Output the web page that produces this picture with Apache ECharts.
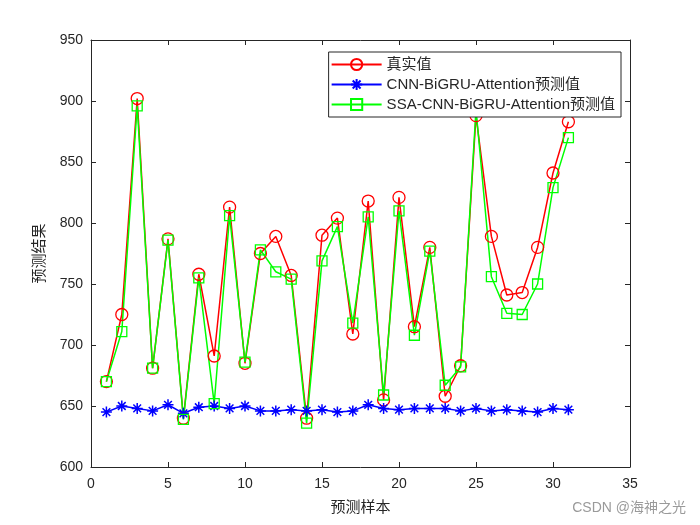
<!DOCTYPE html>
<html><head><meta charset="utf-8">
<script src="https://cdn.jsdelivr.net/npm/echarts@6/dist/echarts.min.js"></script>
<style>html,body{margin:0;padding:0;background:#fff}#c{width:700px;height:525px}</style>
</head><body><div id="c"></div>
<script>
const samples = [1,2,3,4,5,6,7,8,9,10,11,12,13,14,15,16,17,18,19,20,21,22,23,24,25,26,27,28,29,30,31];
const trueVals = [670,725,902,681,787,640,758,691,813,685,775,789,757,640,790,804,709,818,655,821,715,780,658,683,888,789,741,743,780,841,883];
const cnnVals = [645,650,648,646,651,644,649,650,648,650,646,646,647,646,647,645,646,651,648,647,648,648,648,646,648,646,647,646,645,648,647];
const ssaVals = [670,711,896,681,786,639,755,652,806,686,778,760,754,636,769,797,718,805,659,810,708,777,667,682,893,756,726,725,750,829,870];
const seriesNames = ['真实值','CNN-BiGRU-Attention预测值','SSA-CNN-BiGRU-Attention预测值'];
const xTicks = [0,5,10,15,20,25,30,35];
const yTicks = [600,650,700,750,800,850,900,950];

const font = '"Liberation Sans", Arial, "Noto Sans CJK SC", sans-serif';
const pair = (vals) => samples.map((s,i)=>[s, vals[i]]);
const star = 'path://M0,-1L0,1M-1,0L1,0M-0.7,-0.7L0.7,0.7M-0.7,0.7L0.7,-0.7';
const axisCommon = {
  axisLine:{show:true, onZero:false, lineStyle:{color:'#262626', width:1}},
  axisTick:{show:true, inside:true, length:5, lineStyle:{color:'#262626'}},
  splitLine:{show:false},
  axisLabel:{color:'#262626', fontSize:14, fontFamily:font}
};
const chart = echarts.init(document.getElementById('c'));
chart.setOption({
  animation:false,
  backgroundColor:'#fff',
  grid:{left:91, right:70, top:40, bottom:58},
  xAxis:[
    Object.assign({type:'value', min:xTicks[0], max:xTicks[xTicks.length-1], interval:5,
      name:'预测样本', nameLocation:'middle', nameGap:33,
      nameTextStyle:{color:'#262626', fontSize:15, fontFamily:font}}, axisCommon,
      {axisLabel:Object.assign({}, axisCommon.axisLabel, {margin:10})}),
    Object.assign({type:'value', position:'top', min:0, max:35, interval:5}, axisCommon,
      {axisLabel:{show:false}})
  ],
  yAxis:[
    Object.assign({type:'value', min:yTicks[0], max:yTicks[yTicks.length-1], interval:50,
      name:'预测结果', nameLocation:'middle', nameGap:44,
      nameTextStyle:{color:'#262626', fontSize:15, fontFamily:font}}, axisCommon),
    Object.assign({type:'value', position:'right', min:600, max:950, interval:50}, axisCommon,
      {axisLabel:{show:false}})
  ],
  legend:{
    right:79, top:52, orient:'vertical',
    backgroundColor:'#fff', borderColor:'#262626', borderWidth:1, borderRadius:0,
    padding:[5,6,5,2], itemGap:5, itemWidth:50, itemHeight:14,
    textStyle:{color:'#262626', fontSize:15, fontFamily:font},
    data:seriesNames
  },
  series:[
    {name:seriesNames[0], type:'line', data:pair(trueVals), symbol:'circle', symbolSize:12,
      lineStyle:{color:'#ff0000', width:1.5},
      itemStyle:{color:'rgba(255,255,255,0)', borderColor:'#ff0000', borderWidth:1.3}},
    {name:seriesNames[1], type:'line', data:pair(cnnVals), symbol:star, symbolSize:11,
      lineStyle:{color:'#0000ff', width:1.5},
      itemStyle:{color:'#0000ff', borderColor:'#0000ff', borderWidth:1.5}},
    {name:seriesNames[2], type:'line', data:pair(ssaVals), symbol:'rect', symbolSize:10,
      lineStyle:{color:'#00ff00', width:1.5},
      itemStyle:{color:'rgba(255,255,255,0)', borderColor:'#00ff00', borderWidth:1.3}}
  ],
  graphic:[{type:'text', right:14, bottom:10,
    style:{text:'CSDN @海神之光', fill:'#9a9a9a', fontSize:14, fontFamily:font}}]
});
</script></body></html>
